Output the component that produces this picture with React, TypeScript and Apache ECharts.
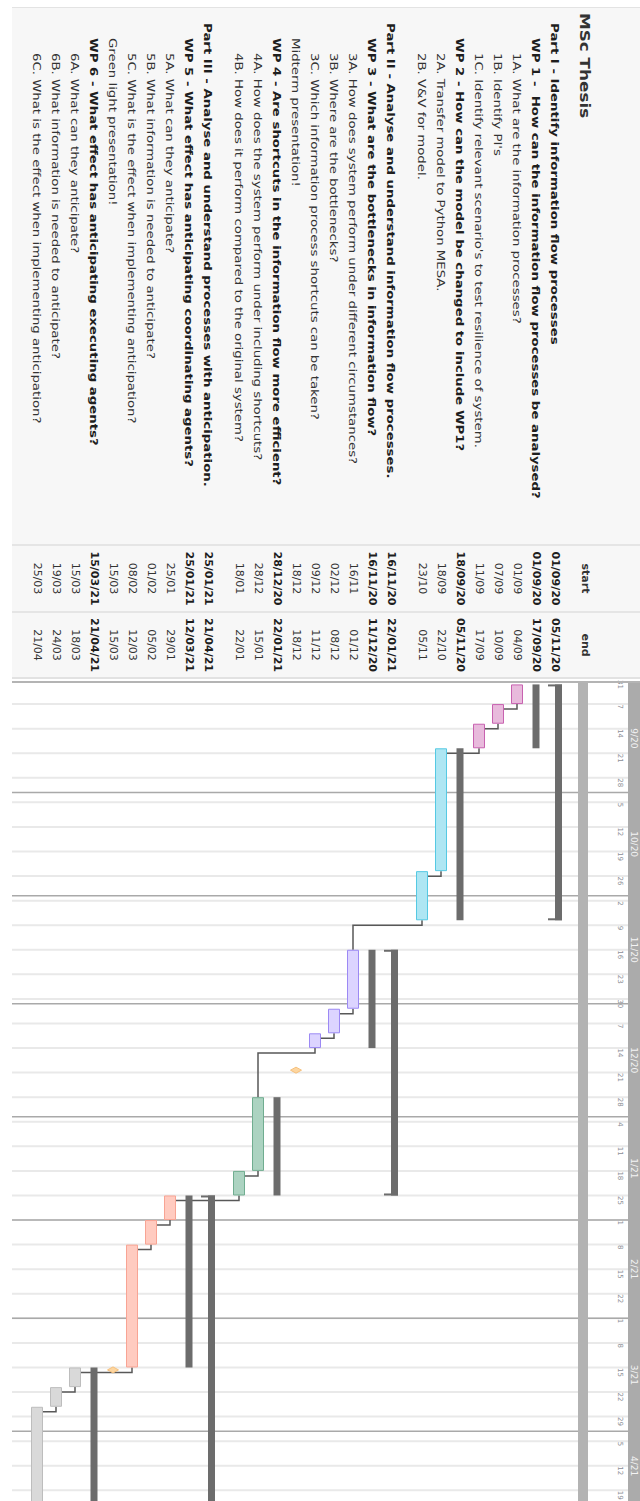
import { useEffect, useRef } from "react";
import * as echarts from "echarts";

// ---------- project plan ----------
const TASK_NAMES = [
  "Part I - Identify information flow processes",
  "WP 1 -  How can the information flow processes be analysed?",
  "1A. What are the information processes?",
  "1B. Identify PI's",
  "1C. Identify relevant scenario's to test resilience of system.",
  "WP 2 - How can the model be changed to include WP1?",
  "2A. Transfer model to Python MESA.",
  "2B. V&V for model.",
  "Part II - Analyse and understand information flow processes.",
  "WP 3 - What are the bottlenecks in information flow?",
  "3A. How does system perform under different circumstances?",
  "3B. Where are the bottlenecks?",
  "3C. Which information process shortcuts can be taken?",
  "Midterm presentation!",
  "WP 4 - Are shortcuts in the information flow more efficient?",
  "4A. How does the system perform under including shortcuts?",
  "4B. How does it perform compared to the original system?",
  "Part III - Analyse and understand processes with anticipation.",
  "WP 5 - What effect has anticipating coordinating agents?",
  "5A. What can they anticipate?",
  "5B. What information is needed to anticipate?",
  "5C. What is the effect when implementing anticipation?",
  "Green light presentation!",
  "WP 6 - What effect has anticipating executing agents?",
  "6A. What can they anticipate?",
  "6B. What information is needed to anticipate?",
  "6C. What is the effect when implementing anticipation?",
];

const TASK_KINDS = [
  "part", "wp", "task", "task", "task", "wp", "task", "task",
  "part", "wp", "task", "task", "task", "milestone", "wp", "task", "task",
  "part", "wp", "task", "task", "task", "milestone", "wp", "task", "task", "task",
];

const TASK_STARTS = [
  "2020-09-01", "2020-09-01", "2020-09-01", "2020-09-07", "2020-09-11", "2020-09-18", "2020-09-18", "2020-10-23",
  "2020-11-16", "2020-11-16", "2020-11-16", "2020-12-02", "2020-12-09", "2020-12-18", "2020-12-28", "2020-12-28", "2021-01-18",
  "2021-01-25", "2021-01-25", "2021-01-25", "2021-02-01", "2021-02-08", "2021-03-15", "2021-03-15", "2021-03-15", "2021-03-19", "2021-03-25",
];

const TASK_ENDS = [
  "2020-11-05", "2020-09-17", "2020-09-04", "2020-09-10", "2020-09-17", "2020-11-05", "2020-10-22", "2020-11-05",
  "2021-01-22", "2020-12-11", "2020-12-01", "2020-12-08", "2020-12-11", "2020-12-18", "2021-01-22", "2021-01-15", "2021-01-22",
  "2021-04-21", "2021-03-12", "2021-01-29", "2021-02-05", "2021-03-12", "2021-03-15", "2021-04-21", "2021-03-18", "2021-03-24", "2021-04-21",
];

// predecessor -> successor (task indices)
const LINKS: [number, number][] = [
  [2, 3], [3, 4], [4, 6], [6, 7], [7, 10], [10, 11], [11, 12], [12, 15],
  [15, 16], [16, 19], [19, 20], [20, 21], [21, 24], [24, 25], [25, 26],
];

// timeline header
const MONTH_LABELS = ["9/20", "10/20", "11/20", "12/20", "1/21", "2/21", "3/21", "4/21"];
const MONTH_STARTS = ["2020-09-01", "2020-10-01", "2020-11-01", "2020-12-01", "2021-01-01", "2021-02-01", "2021-03-01", "2021-04-01", "2021-05-01"];
const WEEK_LABELS = [
  "31", "7", "14", "21", "28", "5", "12", "19", "26", "2", "9", "16", "23", "30",
  "7", "14", "21", "28", "4", "11", "18", "25", "1", "8", "15", "22",
  "1", "8", "15", "22", "29", "5", "12", "19",
];

// ---------- styling ----------
const PALETTE = [
  { fill: "#e8badc", stroke: "#c862b0" },
  { fill: "#aee6f3", stroke: "#55c9e3" },
  { fill: "#dcd4ff", stroke: "#9c89f4" },
  { fill: "#acd3c1", stroke: "#70ad90" },
  { fill: "#ffcbc0", stroke: "#f8a494" },
  { fill: "#d9d9d9", stroke: "#bdbdbd" },
];
const SUMMARY = "#6c6c6c";
const MILESTONE = { fill: "#fdd6a0", stroke: "#f6c07c" };
const FONT = '"DejaVu Sans", sans-serif';
const font = (size: number, bold: boolean) => `${bold ? "bold " : ""}${size}px ${FONT}`;

// ---------- layout ----------
const PX_PER_DAY = 4.914; // one working day
const ROW_PX = 19;
const PART_GAP = 12 / ROW_PX;
const GRID_LEFT = 12;
const GRID_RIGHT_X = 628;
const CHART_TOP = 683;
const PAGE_H = 1501;
const WEEK0_Y = 679.5;
const FIRST_ROW_X = 555;
const X_MIN = -(GRID_RIGHT_X - FIRST_ROW_X) / ROW_PX;
const X_MAX = X_MIN + (GRID_RIGHT_X - GRID_LEFT) / ROW_PX;
const Y_MIN = (CHART_TOP - WEEK0_Y) / PX_PER_DAY;
const Y_MAX = (PAGE_H - WEEK0_Y) / PX_PER_DAY;

// working-day index counted from Monday 31 Aug 2020 (weekends skipped)
const ORIGIN = Date.UTC(2020, 7, 31);
function workIndex(iso: string): number {
  const [y, m, d] = iso.split("-").map(Number);
  const days = Math.round((Date.UTC(y, m - 1, d) - ORIGIN) / 86400000);
  const weeks = Math.floor(days / 7);
  const dow = days - weeks * 7;
  return weeks * 5 + Math.min(dow, 4);
}

function fmtDate(iso: string, withYear: boolean): string {
  const [y, m, d] = iso.split("-");
  return withYear ? `${d}/${m}/${y.slice(2)}` : `${d}/${m}`;
}

const LEVEL: Record<string, number> = { part: 0, wp: 1, milestone: 1, task: 2 };

const ROW_POS: number[] = [];
const TASK_COLOUR: number[] = [];
{
  let p = 0;
  let wp = -1;
  TASK_KINDS.forEach((k, i) => {
    if (k === "part" && i > 0) p += PART_GAP;
    if (k === "wp") wp += 1;
    ROW_POS.push(p);
    TASK_COLOUR.push(wp);
    p += 1;
  });
}

function vText(x: number, y: number, text: string, size: number, bold: boolean, fill: string, align: string, stretch = 1) {
  return {
    type: "text",
    x,
    y,
    rotation: -Math.PI / 2,
    scaleX: stretch,
    style: {
      text,
      font: font(size, bold),
      fill,
      align,
      textAlign: align,
      verticalAlign: "middle",
      textVerticalAlign: "middle",
    },
  };
}

function buildOption(): any {
  const barData = TASK_NAMES.map((_, i) => [ROW_POS[i], workIndex(TASK_STARTS[i]), workIndex(TASK_ENDS[i]) + 1, i]);
  const linkData = LINKS.map(([a, b]) => [ROW_POS[a], workIndex(TASK_ENDS[a]) + 1, ROW_POS[b], workIndex(TASK_STARTS[b])]);
  const weekData = WEEK_LABELS.map((_, i) => [X_MIN, i * 5, i]);
  const monthLineData = MONTH_LABELS.map((_, i) => [X_MIN, workIndex(MONTH_STARTS[i]), i]).filter((d) => d[2] > 0);
  const monthLabelData = MONTH_LABELS.map((_, i) => {
    const a = Math.max(workIndex(MONTH_STARTS[i]), Y_MIN);
    const b = Math.min(workIndex(MONTH_STARTS[i + 1]), Y_MAX);
    return [X_MIN, (a + b) / 2, i];
  });
  const tableData = TASK_NAMES.map((_, i) => [ROW_POS[i], Y_MIN, i]);

  return {
    animation: false,
    grid: { left: GRID_LEFT, right: 640 - GRID_RIGHT_X, top: CHART_TOP, bottom: 0 },
    xAxis: {
      type: "value", inverse: true, min: X_MIN, max: X_MAX, show: false,
      splitLine: { show: false }, axisLabel: { show: false }, axisLine: { show: false }, axisTick: { show: false },
    },
    yAxis: {
      type: "value", inverse: true, min: Y_MIN, max: Y_MAX, show: false,
      splitLine: { show: false }, axisLabel: { show: false }, axisLine: { show: false }, axisTick: { show: false },
    },
    graphic: {
      elements: [
        { type: "rect", z: 0, shape: { x: 12, y: 8, width: 628, height: 670 }, style: { fill: "#f7f7f7" } },
        { type: "rect", z: 1, shape: { x: 12, y: 7, width: 628, height: 1 }, style: { fill: "#e3e3e3" } },
        { type: "rect", z: 1, shape: { x: 12, y: 544, width: 628, height: 2 }, style: { fill: "#e5e5e5" } },
        { type: "rect", z: 1, shape: { x: 12, y: 611, width: 628, height: 2 }, style: { fill: "#e5e5e5" } },
        { type: "rect", z: 8, shape: { x: 12, y: 677, width: 628, height: 2 }, style: { fill: "#e2e2e2" } },
        { type: "rect", z: 8, shape: { x: 12, y: 681, width: 628, height: 2 }, style: { fill: "#b4b4b4" } },
        { type: "rect", z: 8, shape: { x: 578, y: CHART_TOP, width: 10, height: PAGE_H - CHART_TOP }, style: { fill: "#b3b3b3" } },
        { type: "rect", z: 8, shape: { x: 628, y: CHART_TOP, width: 12, height: PAGE_H - CHART_TOP }, style: { fill: "#ababab" } },
        { ...vText(585, 13, "MSc Thesis", 14, true, "#333", "left", 1.2), z: 10 },
        { ...vText(585, 578.5, "start", 11, true, "#333", "center"), z: 10 },
        { ...vText(585, 645, "end", 11, true, "#333", "center"), z: 10 },
      ],
    },
    series: [
      {
        // weekly gridlines and day-of-month labels
        type: "custom",
        z: 1,
        data: weekData,
        encode: { x: 0, y: 1 },
        renderItem: (_p: any, api: any) => {
          const v = api.value(1);
          const i = api.value(2);
          const [xr, y] = api.coord([X_MIN, v]);
          const xl = api.coord([X_MAX, v])[0];
          const children: any[] = [];
          if (i > 0) {
            children.push({ type: "line", shape: { x1: xl, y1: y, x2: xr, y2: y }, style: { stroke: "#e9e9e9", lineWidth: 2 } });
          }
          children.push(vText(xr - 8, y + 0.5, WEEK_LABELS[i], 7, false, "#8b8e96", "left"));
          return { type: "group", children };
        },
      },
      {
        // month boundaries
        type: "custom",
        z: 2,
        data: monthLineData,
        encode: { x: 0, y: 1 },
        renderItem: (_p: any, api: any) => {
          const v = api.value(1);
          const [xr, y] = api.coord([X_MIN, v]);
          const xl = api.coord([X_MAX, v])[0];
          return { type: "line", shape: { x1: xl, y1: y, x2: xr, y2: y }, style: { stroke: "#a9a9a9", lineWidth: 1.5 } };
        },
      },
      {
        // dependency connectors
        type: "custom",
        z: 4,
        data: linkData,
        encode: { x: 0, y: 1 },
        renderItem: (_p: any, api: any) => {
          const [xf, yf] = api.coord([api.value(0), api.value(1)]);
          const [xt, yt] = api.coord([api.value(2), api.value(3)]);
          const yb = yf + 5;
          const points = Math.abs(yt - yf) < 0.5
            ? [[xf, yf], [xf, yb], [xt + 6, yb]]
            : [[xf, yf], [xf, yb], [xt, yb], [xt, yt]];
          return { type: "polyline", shape: { points }, style: { stroke: "#585858", lineWidth: 1.5, fill: null } };
        },
      },
      {
        // bars, summaries and milestones
        type: "custom",
        z: 5,
        data: barData,
        encode: { x: 0, y: [1, 2] },
        renderItem: (_p: any, api: any) => {
          const i = api.value(3);
          const kind = TASK_KINDS[i];
          const [cx, y0] = api.coord([api.value(0), api.value(1)]);
          const y1 = api.coord([api.value(0), api.value(2)])[1];
          if (kind === "part") {
            return {
              type: "group",
              children: [
                { type: "rect", shape: { x: cx, y: y0, width: 7, height: y1 - y0 }, style: { fill: SUMMARY } },
                { type: "rect", shape: { x: cx - 7, y: y0, width: 14, height: 2 }, style: { fill: SUMMARY } },
                { type: "rect", shape: { x: cx - 7, y: y1 - 2, width: 14, height: 2 }, style: { fill: SUMMARY } },
              ],
            };
          }
          if (kind === "wp") {
            return { type: "rect", shape: { x: cx - 3.5, y: y0, width: 7, height: y1 - y0 }, style: { fill: SUMMARY } };
          }
          if (kind === "milestone") {
            const cy = (y0 + y1) / 2;
            return {
              type: "polygon",
              shape: { points: [[cx - 5.5, cy], [cx, cy - 3], [cx + 5.5, cy], [cx, cy + 3]] },
              style: { fill: MILESTONE.fill, stroke: MILESTONE.stroke, lineWidth: 1 },
            };
          }
          const c = PALETTE[TASK_COLOUR[i]];
          return {
            type: "rect",
            shape: { x: cx - 5.5, y: y0 + 0.5, width: 11, height: y1 - y0 - 1 },
            style: { fill: c.fill, stroke: c.stroke, lineWidth: 1 },
          };
        },
      },
      {
        // task table: name, start, end
        type: "custom",
        z: 6,
        data: tableData,
        encode: { x: 0, y: 1 },
        renderItem: (_p: any, api: any) => {
          const i = api.value(2);
          const kind = TASK_KINDS[i];
          const x = api.coord([api.value(0), api.value(1)])[0];
          const group = kind === "part" || kind === "wp";
          const colour = group ? "#1e1e1e" : "#333";
          return {
            type: "group",
            children: [
              vText(x, 23 + 15 * LEVEL[kind], TASK_NAMES[i], 11, group, colour, "left", 1.21),
              vText(x, 578.5, fmtDate(TASK_STARTS[i], group), 11, group, colour, "center"),
              vText(x, 645, fmtDate(TASK_ENDS[i], group), 11, group, colour, "center"),
            ],
          };
        },
      },
      {
        // month names in the header band
        type: "custom",
        z: 9,
        data: monthLabelData,
        encode: { x: 0, y: 1 },
        renderItem: (_p: any, api: any) => {
          const [, y] = api.coord([X_MIN, api.value(1)]);
          return vText(634, y, MONTH_LABELS[api.value(2)], 9, false, "#f4f4f4", "center");
        },
      },
    ],
  };
}

export default function App() {
  const ref = useRef<HTMLDivElement>(null);
  useEffect(() => {
    if (!ref.current) return;
    const chart = echarts.init(ref.current, undefined, { renderer: "svg" });
    chart.setOption(buildOption());
    return () => chart.dispose();
  }, []);
  return (
    <div
      ref={ref}
      style={{ position: "absolute", left: 0, top: 0, width: 640, height: 1501, background: "#ffffff" }}
    />
  );
}
